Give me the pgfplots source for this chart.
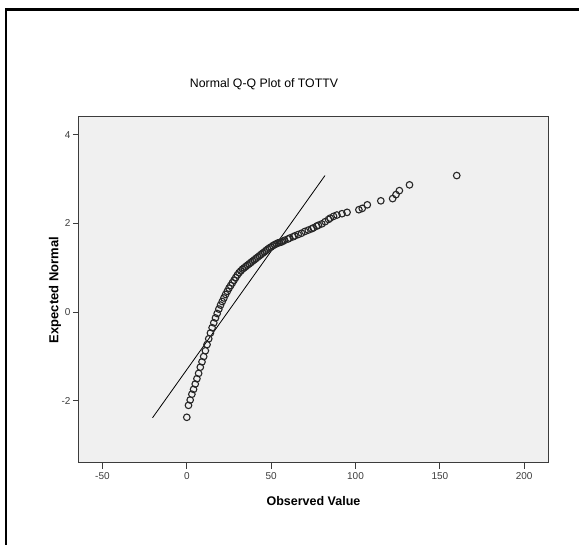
\documentclass[border=0pt]{standalone}
\usepackage{pgfplots}
\pgfplotsset{compat=1.18}
\usepackage{fontspec}
\setmainfont{Liberation Sans}
\definecolor{plotbg}{HTML}{F0F0F0}
\definecolor{axisgray}{HTML}{3C3C3C}
\begin{document}
\begin{tikzpicture}[x=1pt,y=1pt]
\path[use as bounding box] (0,0) rectangle (579,545);
\draw[line width=2.6pt] (5.8,0) -- (5.8,535.3) -- (579,535.3);
\node[font=\fontsize{12.3}{14}\selectfont] at (264,461) {Normal Q-Q Plot of TOTTV};
\begin{axis}[
  at={(79pt,82pt)}, anchor=south west,
  width=469pt, height=346pt, scale only axis,
  xmin=-63.9, xmax=214.1, ymin=-3.4, ymax=4.4,
  axis background/.style={fill=plotbg},
  axis line style={axisgray, line width=1pt},
  xtick={-50,0,50,100,150,200}, ytick={-2,0,2,4},
  xtick pos=bottom, ytick pos=left, tick align=outside,
  major tick length=6pt, tick style={axisgray, line width=0.8pt},
  /pgf/number format/assume math mode=true,
  ticklabel style={font=\fontsize{10}{12}\selectfont, text=axisgray},
  yticklabel style={xshift=1pt},
  xlabel={\textbf{Observed Value}},
  ylabel={\textbf{Expected Normal}},
  xlabel style={at={(axis description cs:0.5,0)}, anchor=center, yshift=-38pt, font=\fontsize{12.5}{14}\selectfont},
  ylabel style={at={(axis description cs:0,0.5)}, anchor=center, yshift=24pt, font=\fontsize{13}{15}\selectfont},
]
\addplot[black, line width=0.8pt] coordinates {(-20.3,-2.38) (81.9,3.08)};
\addplot[only marks, mark=o, mark size=3.3pt, mark options={draw=black!85, line width=1.1pt}] coordinates {
(0,-2.37) (1,-2.10) (2,-1.98) (3,-1.85) (4,-1.74) (5,-1.62) (6,-1.50) (7,-1.38)
(8,-1.24) (9,-1.12) (10,-1.00) (11,-0.87) (12,-0.73) (13,-0.60) (14,-0.47)
(15,-0.35) (16,-0.24) (17,-0.13) (18,-0.03) (19,0.07) (20,0.16) (21,0.24)
(22,0.32) (23,0.40) (24,0.47) (25,0.54) (26,0.60) (27,0.66) (28,0.72) (29,0.78)
(30,0.84) (31,0.89) (32,0.93) (33,0.97) (34,1.00) (35,1.03) (36,1.06) (37,1.09)
(38,1.12) (39,1.15) (40,1.18) (41,1.21) (42,1.24) (43,1.27) (44,1.30) (45,1.33)
(46,1.36) (47,1.39) (48,1.42) (49,1.45) (50,1.47) (51,1.50) (52,1.52) (53,1.54)
(54,1.56) (55,1.57) (56,1.58) (57,1.60) (58,1.62) (60,1.65) (61,1.67) (63,1.70)
(64,1.72) (66,1.75) (68,1.78) (70,1.82) (72,1.85) (74,1.88) (75,1.90) (77,1.94)
(78,1.96) (80,1.99) (82,2.04) (84,2.09) (85,2.12) (87,2.16) (89,2.19) (92,2.22)
(95,2.25) (102,2.31) (104,2.34) (107,2.42) (115,2.51) (122,2.56) (124,2.65)
(126,2.74) (132,2.87) (160,3.08)
};
\end{axis}
\end{tikzpicture}
\end{document}
